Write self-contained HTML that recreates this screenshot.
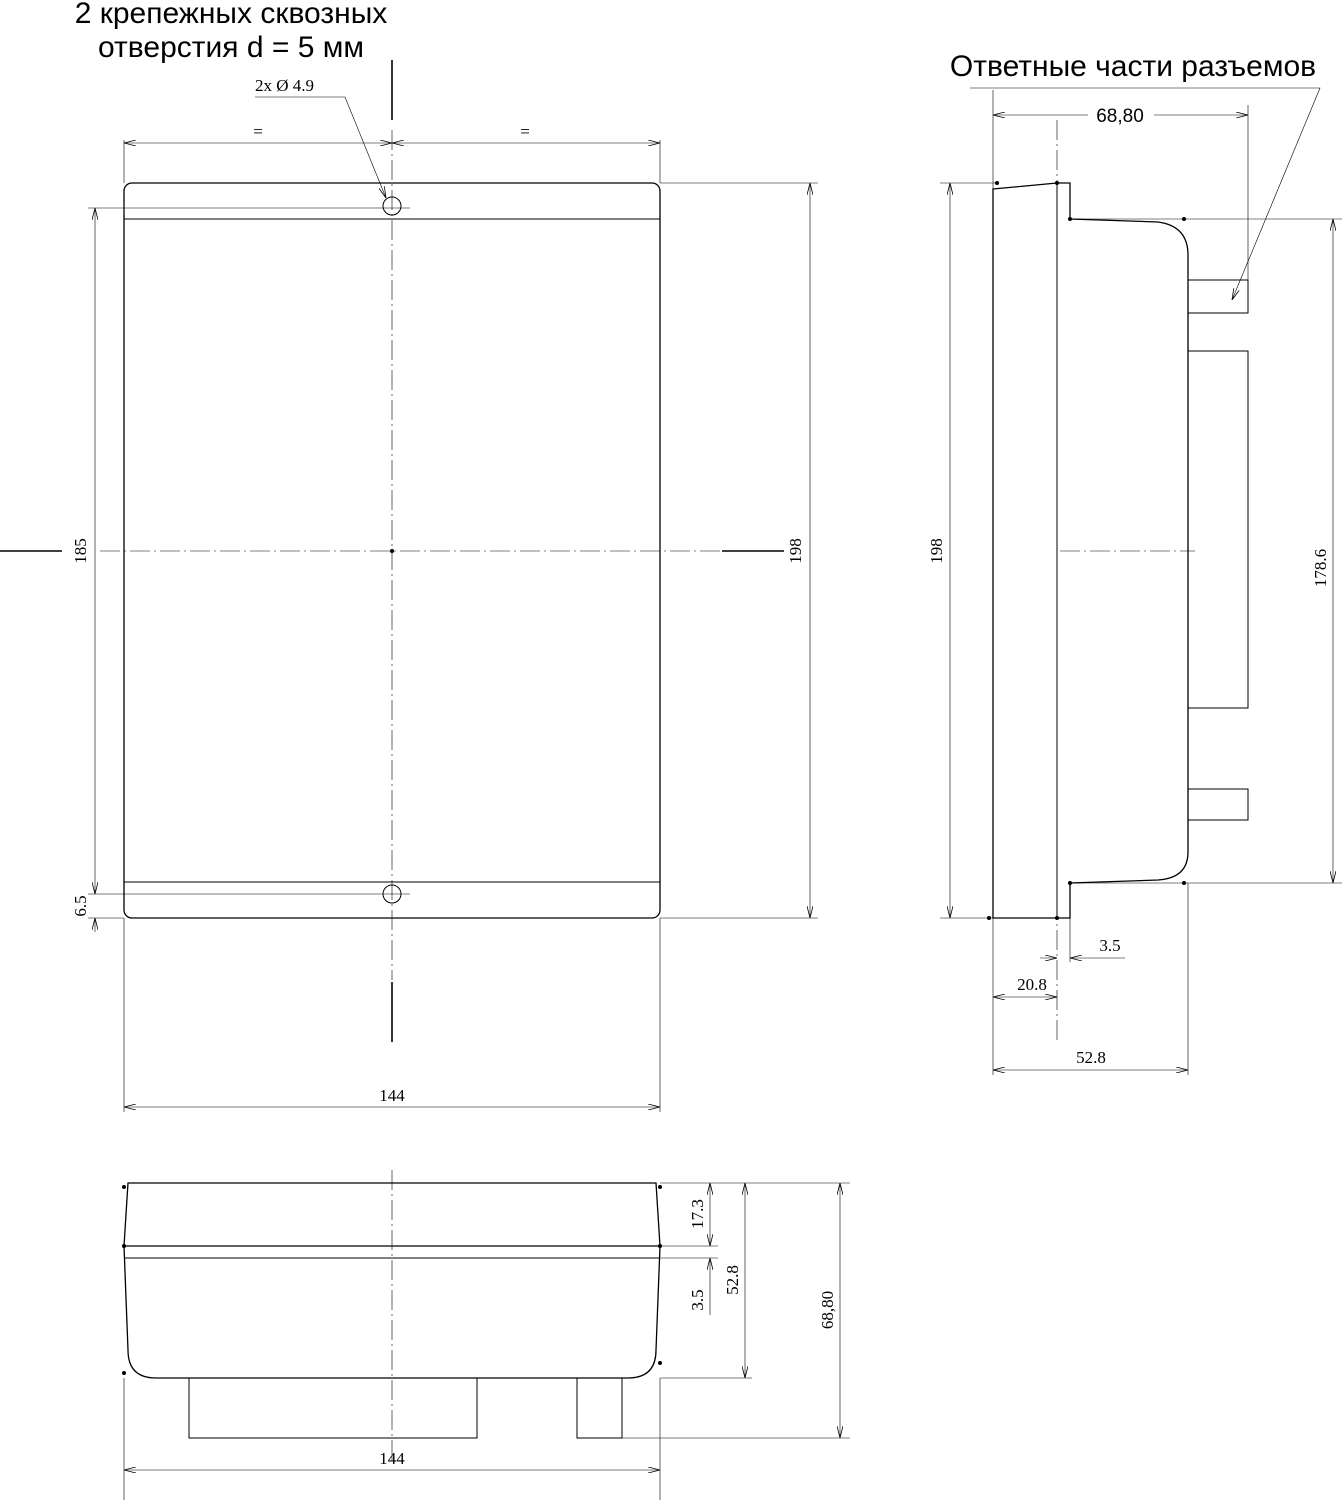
<!DOCTYPE html>
<html><head><meta charset="utf-8"><style>
html,body{margin:0;padding:0;background:#fff}
svg{display:block}
text{font-family:"Liberation Serif",serif;font-size:17px;fill:#000}
.s{font-family:"Liberation Sans","DejaVu Sans",sans-serif;font-size:30px}
</style></head><body>
<svg width="1342" height="1500" viewBox="0 0 1342 1500" xmlns="http://www.w3.org/2000/svg">
<defs>
<marker id="a" viewBox="0 0 12 6" refX="12" refY="3" markerWidth="12" markerHeight="6" orient="auto-start-reverse" markerUnits="userSpaceOnUse">
<path d="M0,0 L12,3 L0,6" fill="none" stroke="#000" stroke-width="0.8"/></marker>
</defs>
<g fill="none" stroke="#000" stroke-width="1.3">
<rect x="124" y="183" width="536" height="735" rx="8"/>
<line x1="124" y1="219" x2="660" y2="219" stroke-width="1"/>
<line x1="124" y1="882" x2="660" y2="882" stroke-width="1"/>
<circle cx="392" cy="206" r="9" stroke-width="1"/>
<circle cx="392" cy="894" r="9" stroke-width="1"/>
<line x1="392" y1="60" x2="392" y2="120" stroke-width="1.6"/>
<line x1="392" y1="982" x2="392" y2="1042" stroke-width="1.6"/>
<line x1="0" y1="551" x2="62" y2="551" stroke-width="1.6"/>
<line x1="722" y1="551" x2="784" y2="551" stroke-width="1.6"/>
<path d="M993,189 L1057,183 L1070,183 L1070,219 L1158,222 Q1188,226 1188,255 L1188,852 Q1188,878 1158,880 L1070,883 L1070,918 L1057,918 L993,918 Z"/>
<line x1="1057" y1="183" x2="1057" y2="918" stroke-width="1"/>
<rect x="1188" y="280" width="60" height="33" stroke-width="1"/>
<rect x="1188" y="351" width="60" height="357" stroke-width="1"/>
<rect x="1188" y="789" width="60" height="31" stroke-width="1"/>
<path d="M128,1183 L656,1183 L660,1246 L656,1350 Q656,1378 628,1378 L156,1378 Q128,1378 128,1350 L124,1246 Z"/>
<line x1="124" y1="1246" x2="660" y2="1246"/>
<line x1="124" y1="1258" x2="660" y2="1258" stroke-width="1"/>
<rect x="189" y="1378" width="288" height="60" stroke-width="1"/>
<rect x="577" y="1378" width="45" height="60" stroke-width="1"/>
</g>
<g fill="none" stroke="#000" stroke-width="0.6">
<line x1="392" y1="130" x2="392" y2="980" stroke-dasharray="20,4,2,4"/>
<line x1="100" y1="551" x2="720" y2="551" stroke-dasharray="20,4,2,4"/>
<line x1="392" y1="1170" x2="392" y2="1460" stroke-dasharray="20,4,2,4"/>
<line x1="1057" y1="120" x2="1057" y2="1040" stroke-dasharray="20,4,2,4"/>
<line x1="1060" y1="551" x2="1195" y2="551" stroke-dasharray="20,4,2,4"/>
<line x1="124" y1="140" x2="124" y2="183"/><line x1="660" y1="140" x2="660" y2="183"/>
<line x1="124" y1="143" x2="392" y2="143" marker-start="url(#a)" marker-end="url(#a)"/>
<line x1="392" y1="143" x2="660" y2="143" marker-start="url(#a)" marker-end="url(#a)"/>
<polyline points="255,97 345,97 386,198" marker-end="url(#a)"/>
<line x1="88" y1="208" x2="410" y2="208"/><line x1="88" y1="894" x2="410" y2="894"/>
<line x1="88" y1="918" x2="124" y2="918"/>
<line x1="95" y1="208" x2="95" y2="894" marker-start="url(#a)" marker-end="url(#a)"/>
<line x1="95" y1="932" x2="95" y2="918" marker-end="url(#a)"/>
<line x1="660" y1="183" x2="818" y2="183"/><line x1="660" y1="918" x2="818" y2="918"/>
<line x1="810" y1="183" x2="810" y2="918" marker-start="url(#a)" marker-end="url(#a)"/>
<line x1="124" y1="918" x2="124" y2="1112"/><line x1="660" y1="918" x2="660" y2="1112"/>
<line x1="124" y1="1107" x2="660" y2="1107" marker-start="url(#a)" marker-end="url(#a)"/>
<line x1="993" y1="90" x2="993" y2="189"/><line x1="1248" y1="105" x2="1248" y2="280"/>
<line x1="993" y1="115" x2="1248" y2="115" marker-start="url(#a)" marker-end="url(#a)"/>
<polyline points="970,88 1320,88 1232,300" marker-end="url(#a)"/>
<line x1="940" y1="183" x2="997" y2="183"/><line x1="940" y1="918" x2="993" y2="918"/>
<line x1="950" y1="183" x2="950" y2="918" marker-start="url(#a)" marker-end="url(#a)"/>
<line x1="1070" y1="219" x2="1342" y2="219"/><line x1="1070" y1="883" x2="1342" y2="883"/>
<line x1="1333" y1="219" x2="1333" y2="883" marker-start="url(#a)" marker-end="url(#a)"/>
<line x1="993" y1="918" x2="993" y2="1075"/><line x1="1188" y1="883" x2="1188" y2="1075"/>
<line x1="1070" y1="918" x2="1070" y2="962"/>
<line x1="1040" y1="958" x2="1057" y2="958" marker-end="url(#a)"/>
<line x1="1125" y1="958" x2="1070" y2="958" marker-end="url(#a)"/>
<line x1="993" y1="997" x2="1057" y2="997" marker-start="url(#a)" marker-end="url(#a)"/>
<line x1="993" y1="1070" x2="1188" y2="1070" marker-start="url(#a)" marker-end="url(#a)"/>
<line x1="660" y1="1183" x2="850" y2="1183"/><line x1="660" y1="1246" x2="718" y2="1246"/>
<line x1="660" y1="1258" x2="718" y2="1258"/><line x1="660" y1="1378" x2="752" y2="1378"/>
<line x1="622" y1="1438" x2="850" y2="1438"/>
<line x1="710" y1="1183" x2="710" y2="1246" marker-start="url(#a)" marker-end="url(#a)"/>
<line x1="710" y1="1315" x2="710" y2="1258" marker-end="url(#a)"/>
<line x1="745" y1="1183" x2="745" y2="1378" marker-start="url(#a)" marker-end="url(#a)"/>
<line x1="840" y1="1183" x2="840" y2="1438" marker-start="url(#a)" marker-end="url(#a)"/>
<line x1="124" y1="1378" x2="124" y2="1500"/><line x1="660" y1="1378" x2="660" y2="1500"/>
<line x1="124" y1="1470" x2="660" y2="1470" marker-start="url(#a)" marker-end="url(#a)"/>
</g>
<g fill="#000">
<circle cx="392" cy="551" r="2"/>
<circle cx="997" cy="183" r="2"/><circle cx="1057" cy="183" r="2"/><circle cx="1070" cy="219" r="2"/><circle cx="1184" cy="219" r="2"/>
<circle cx="1070" cy="883" r="2"/><circle cx="1184" cy="883" r="2"/><circle cx="989" cy="918" r="2"/><circle cx="1057" cy="918" r="2"/>
<circle cx="124" cy="1187" r="2"/><circle cx="660" cy="1187" r="2"/><circle cx="124" cy="1246" r="2"/><circle cx="660" cy="1246" r="2"/>
<circle cx="124" cy="1373" r="2"/><circle cx="660" cy="1363" r="2"/>
</g>
<rect x="1088" y="103" width="66" height="24" fill="#fff"/>
<text class="s" x="231" y="23" text-anchor="middle">2 крепежных сквозных</text>
<text class="s" x="231" y="57" text-anchor="middle">отверстия d = 5 мм</text>
<text class="s" x="1133" y="76" text-anchor="middle">Ответные части разъемов</text>
<text x="255" y="91">2x Ø 4.9</text>
<text x="258" y="137" text-anchor="middle">=</text>
<text x="525" y="137" text-anchor="middle">=</text>
<text x="392" y="1101" text-anchor="middle">144</text>
<text x="392" y="1464" text-anchor="middle">144</text>
<text x="1120" y="122" text-anchor="middle" style="font-family:'Liberation Sans',sans-serif;font-size:19px">68,80</text>
<text x="1110" y="951" text-anchor="middle">3.5</text>
<text x="1032" y="990" text-anchor="middle">20.8</text>
<text x="1091" y="1063" text-anchor="middle">52.8</text>
<text transform="translate(86,551) rotate(-90)" text-anchor="middle">185</text>
<text transform="translate(86,906) rotate(-90)" text-anchor="middle">6.5</text>
<text transform="translate(801,551) rotate(-90)" text-anchor="middle">198</text>
<text transform="translate(942,551) rotate(-90)" text-anchor="middle">198</text>
<text transform="translate(1326,568) rotate(-90)" text-anchor="middle">178.6</text>
<text transform="translate(703,1214) rotate(-90)" text-anchor="middle">17.3</text>
<text transform="translate(703,1300) rotate(-90)" text-anchor="middle">3.5</text>
<text transform="translate(738,1280) rotate(-90)" text-anchor="middle">52.8</text>
<text transform="translate(833,1310) rotate(-90)" text-anchor="middle">68,80</text>
</svg>
</body></html>
